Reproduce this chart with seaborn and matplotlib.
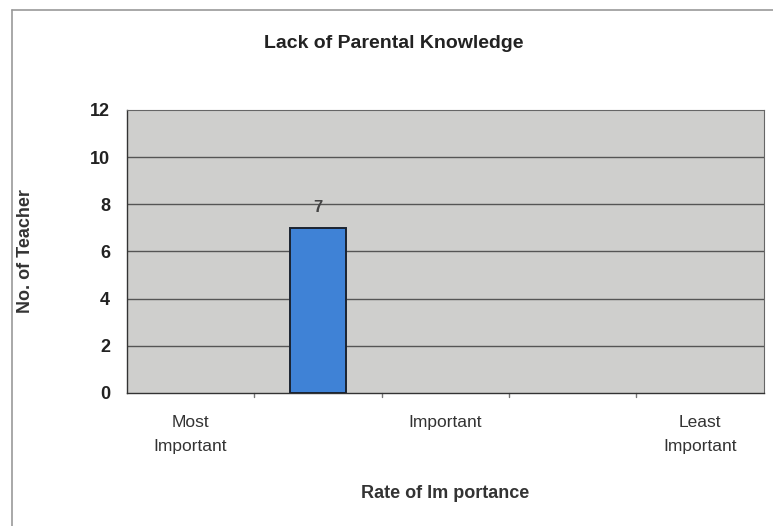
import matplotlib
matplotlib.use("Agg")
import matplotlib.pyplot as plt
import seaborn as sns
import pandas as pd
from matplotlib.lines import Line2D

# data
categories = ["Most\nImportant", " ", "Important", "  ", "Least\nImportant"]
teachers = [0, 7, 0, 0, 0]
y_ticks = [0, 2, 4, 6, 8, 10, 12]

df = pd.DataFrame({"rate": categories, "count": teachers})

sns.set_style("white")
plt.rcParams["font.family"] = ["Liberation Sans", "DejaVu Sans"]

fig = plt.figure(figsize=(7.73, 5.26), dpi=100)
ax = fig.add_axes([0.164, 0.253, 0.824, 0.538])
ax.set_facecolor("#cfcfcd")

sns.barplot(data=df, x="rate", y="count", ax=ax, color="#3f82d6",
            width=0.44, edgecolor="#1b2330", linewidth=1.4, saturation=1, zorder=3)
# empty categories should not leave a flat outline on the axis
for p in ax.patches:
    if p.get_height() == 0:
        p.set_linewidth(0)

ax.set_ylim(0, 12)
ax.set_yticks(y_ticks)
ax.set_xlim(-0.5, len(categories) - 0.5)
for t in y_ticks[1:-1]:
    ax.axhline(t, color="#555555", linewidth=1.0, zorder=1)

# value label over the bar
for i, v in enumerate(teachers):
    if v > 0:
        ax.text(i, v + 0.55, str(v), ha="center", va="bottom",
                fontsize=12, fontweight="bold", color="#444444")

for s in ["top", "right"]:
    ax.spines[s].set_color("#666666")
    ax.spines[s].set_linewidth(0.8)
for s in ["left", "bottom"]:
    ax.spines[s].set_color("#333333")
    ax.spines[s].set_linewidth(1.0)

ax.tick_params(axis="y", labelsize=13, length=4, color="#555555", pad=8)
ax.tick_params(axis="x", labelsize=12.5, length=0, pad=16)
for lab in ax.get_yticklabels():
    lab.set_fontweight("bold")
    lab.set_color("#222222")
for lab in ax.get_xticklabels():
    lab.set_color("#333333")
    lab.set_linespacing(1.75)

# category boundary ticks on the x axis
for b in range(1, len(categories)):
    ax.plot([b - 0.5, b - 0.5], [0, -0.18], color="#777777", linewidth=1,
            clip_on=False)

ax.set_xlabel("Rate of Im portance", fontsize=13, fontweight="bold",
              color="#333333", labelpad=22)
ax.set_ylabel("No. of Teacher", fontsize=13, fontweight="bold",
              color="#333333", labelpad=40)
fig.text(0.51, 0.918, "Lack of Parental Knowledge", ha="center", va="center",
         fontsize=14, fontweight="bold", color="#222222")

# outer chart frame
fig.add_artist(Line2D([0.016, 1.0], [0.981, 0.981], transform=fig.transFigure,
                      color="#999999", linewidth=1.2))
fig.add_artist(Line2D([0.016, 0.016], [0.0, 0.981], transform=fig.transFigure,
                      color="#999999", linewidth=1.2))

plt.savefig("out.png", dpi=100)
